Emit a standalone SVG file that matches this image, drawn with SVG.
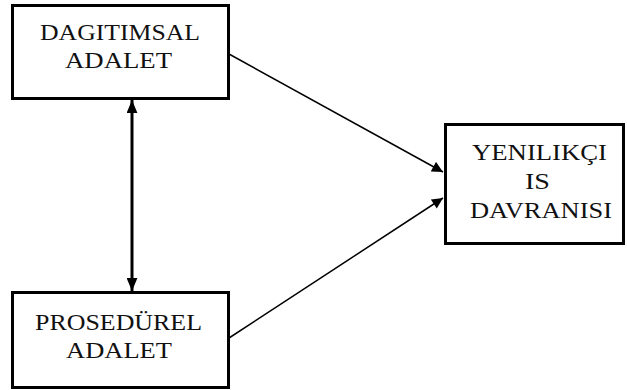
<svg xmlns="http://www.w3.org/2000/svg" width="627" height="390" viewBox="0 0 627 390">
<style>
.box{fill:#fff;stroke:#000;stroke-width:3}
.t{font-family:"Liberation Serif","Times New Roman",serif;font-size:23px;fill:#111}
.c{stroke:#000;fill:none}
</style>
<defs>
<marker id="ah" viewBox="0 0 10 10" refX="10" refY="5" markerWidth="12" markerHeight="11" markerUnits="userSpaceOnUse" orient="auto-start-reverse">
<path d="M0,0 L10,5 L0,10 z" fill="#000"/>
</marker>
<marker id="av" viewBox="0 0 12 10" refX="12" refY="5" markerWidth="13" markerHeight="11" markerUnits="userSpaceOnUse" orient="auto-start-reverse">
<path d="M0,0 L12,5 L0,10 z" fill="#000"/>
</marker>
</defs>
<rect width="627" height="390" fill="#fff"/>
<g id="connectors">
<line class="c" stroke-width="1.5" x1="229" y1="54" x2="443" y2="172" marker-end="url(#ah)"/>
<line class="c" stroke-width="1.5" x1="229" y1="338" x2="443" y2="198" marker-end="url(#ah)"/>
<line class="c" stroke-width="3" x1="132" y1="100" x2="132" y2="291" marker-start="url(#av)" marker-end="url(#av)"/>
</g>
<g id="dagitimsal">
<rect class="box" x="12.5" y="5.5" width="216" height="93"/>
<text class="t" x="40" y="40" textLength="160" lengthAdjust="spacingAndGlyphs">DAGITIMSAL</text>
<text class="t" x="65" y="68" textLength="107" lengthAdjust="spacingAndGlyphs">ADALET</text>
</g>
<g id="prosedurel">
<rect class="box" x="12.5" y="292.5" width="216" height="95"/>
<text class="t" x="35" y="330" textLength="167" lengthAdjust="spacingAndGlyphs">PROSEDÜREL</text>
<text class="t" x="66" y="358" textLength="106" lengthAdjust="spacingAndGlyphs">ADALET</text>
</g>
<g id="yenilikci">
<rect class="box" x="445.5" y="124.5" width="178" height="119"/>
<text class="t" x="472" y="160" textLength="135" lengthAdjust="spacingAndGlyphs">YENILIKÇI</text>
<text class="t" x="525" y="189" textLength="25" lengthAdjust="spacingAndGlyphs">IS</text>
<text class="t" x="470" y="218" textLength="142" lengthAdjust="spacingAndGlyphs">DAVRANISI</text>
</g>
</svg>
